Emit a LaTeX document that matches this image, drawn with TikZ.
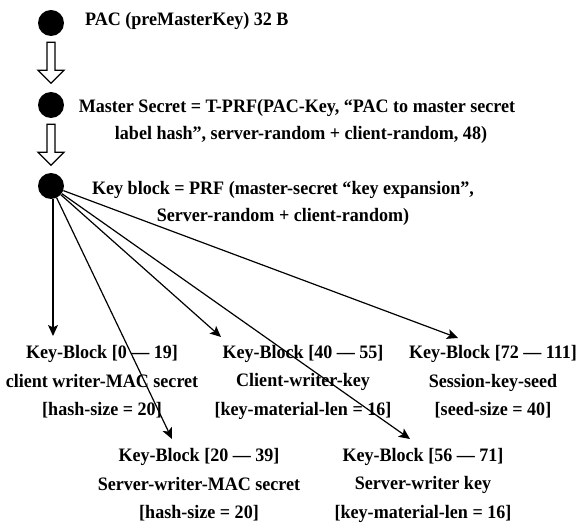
\documentclass[tikz,border=0pt]{standalone}
\usepackage{fontspec}
\setmainfont{Liberation Serif}[FakeStretch=0.95]
\usetikzlibrary{arrows.meta,calc}

\tikzset{
  dot/.style={circle, fill=black, inner sep=0pt, minimum size=26pt},
  txt/.style={inner sep=0pt, font=\fontsize{19}{27}\selectfont\bfseries, align=center},
  blk/.style={inner sep=0pt, font=\fontsize{19}{28.5}\selectfont\bfseries, align=center},
  hollow/.style={draw=black, line width=1.3pt, fill=white, line join=miter},
  arr/.style={draw=black, line width=1.2pt, -{Stealth[length=11pt,width=10pt,inset=2.5pt]}}
}

\begin{document}
\begin{tikzpicture}[x=1pt, y=-1pt]
  \useasboundingbox (0,0) rectangle (582,526);

  % key derivation chain
  \node[dot] (c1) at (51,23) {};
  \node[dot] (c2) at (51,105) {};
  \node[dot] (c3) at (51,186) {};

  \node[txt, anchor=west] (t1) at (85,21) {PAC (preMasterKey) 32 B};
  \node[txt] (t2) at (297,121) {Master Secret = T-PRF(PAC-Key, “PAC to master secret\\\hspace*{8pt}label hash”, server-random + client-random, 48)};
  \node[txt] (t3) at (283,203) {Key block = PRF (master-secret “key expansion”,\\Server-random + client-random)};

  % hollow block arrows between the stages
  \foreach \a in {c1,c2}{
    \draw[hollow] ($(\a.south)+(-4,6)$) -- ++(0,28) -- ++(-9,0) -- ++(13,13)
      -- ++(13,-13) -- ++(-9,0) -- ++(0,-28) -- cycle;
  }

  % key block slices
  \node[blk] (b0)  at (102,382) {Key-Block [0 — 19]\\client writer-MAC secret\\{[hash-size = 20]}};
  \node[blk] (b40) at (303,382) {Key-Block [40 — 55]\\Client-writer-key\\{[key-material-len = 16]}};
  \node[blk] (b72) at (493,382) {Key-Block [72 — 111]\\Session-key-seed\\{[seed-size = 40]}};
  \node[blk] (b20) at (199,485) {Key-Block [20 — 39]\\Server-writer-MAC secret\\{[hash-size = 20]}};
  \node[blk] (b56) at (423,485) {Key-Block [56 — 71]\\Server-writer key\\{[key-material-len = 16]}};

  % arrow tips above each slice
  \coordinate (p0)  at (53,336);
  \coordinate (p40) at (221,337);
  \coordinate (p72) at (458,338);
  \coordinate (p20) at (172,439);
  \coordinate (p56) at (410,439);

  \draw[arr] (c3.south -| p0) -- (p0);
  \draw[arr] (c3) -- (p20);
  \draw[arr] (c3) -- (p40);
  \draw[arr] (c3) -- (p56);
  \draw[arr] (c3) -- (p72);
\end{tikzpicture}
\end{document}
